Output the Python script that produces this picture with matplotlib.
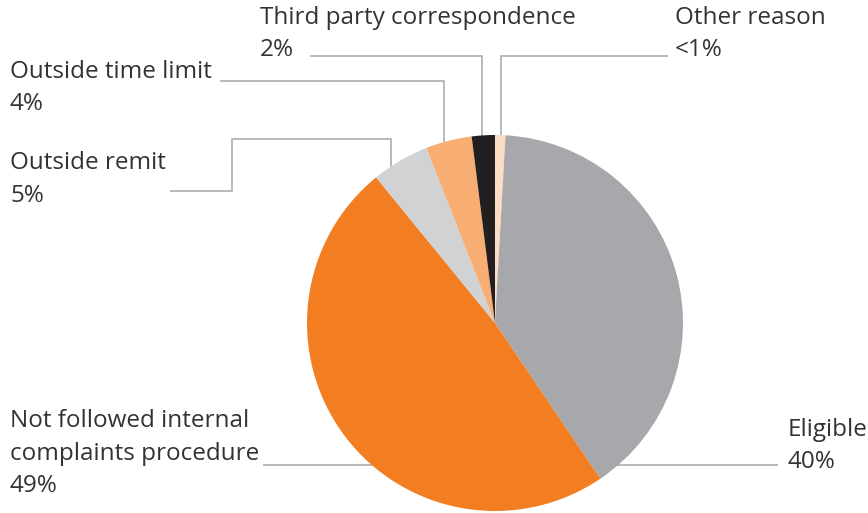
import matplotlib
matplotlib.use("Agg")
from matplotlib import pyplot as plt

plt.rcParams['font.family'] = ['Open Sans', 'DejaVu Sans']

# complaint outcomes, clockwise from 12 o'clock
categories = ["Other reason", "Eligible", "Not followed internal\ncomplaints procedure",
              "Outside remit", "Outside time limit", "Third party correspondence"]
shares = [0.9, 40, 49, 5, 4, 2]
share_labels = ["<1%", "40%", "49%", "5%", "4%", "2%"]
colors = ["#FDDCC4", "#A7A8AB", "#F37E21", "#D1D2D4", "#F8AE72", "#231F20"]

W, H = 868, 513
fig = plt.figure(figsize=(W / 100, H / 100), dpi=100)
ax = fig.add_axes([0, 0, 1, 1])


def Y(y):
    # layout is measured from the top edge
    return H - y


cx, cy, r = 495, 323, 188
ax.pie(shares, colors=colors, startangle=90, counterclock=False,
       center=(cx, Y(cy)), radius=r, frame=True,
       wedgeprops=dict(linewidth=0, zorder=3))
ax.set_xlim(0, W)
ax.set_ylim(0, H)
ax.set_aspect("equal")
ax.axis("off")

line_kw = dict(color="#b3b3b3", lw=1.3, zorder=1, solid_capstyle="butt")

# leader lines (x, y from top)
leaders = {
    "Other reason": [(668, 56), (501, 56), (501, 150)],
    "Eligible": [(778, 465), (600, 465)],
    "Not followed internal\ncomplaints procedure": [(263, 465), (380, 465)],
    "Outside remit": [(170, 191), (232, 191), (232, 139), (391, 139), (391, 180)],
    "Outside time limit": [(220, 81), (444, 81), (444, 155)],
    "Third party correspondence": [(310, 56), (482, 56), (482, 150)],
}
for pts in leaders.values():
    ax.plot([p[0] for p in pts], [Y(p[1]) for p in pts], **line_kw)

# label anchors: x, y of the first line's centre
label_pos = {
    "Other reason": (675, 18),
    "Eligible": (788, 430),
    "Not followed internal\ncomplaints procedure": (10, 421),
    "Outside remit": (10, 163),
    "Outside time limit": (10, 72),
    "Third party correspondence": (260, 18),
}
step = 32.5
fs = 17.5
for cat, pct in zip(categories, share_labels):
    x, y = label_pos[cat]
    lines = cat.split("\n") + [pct]
    for i, s in enumerate(lines):
        ax.text(x, Y(y + i * step), s, fontsize=fs, color="#333333",
                ha="left", va="center", fontweight="normal")

fig.savefig("out.png", dpi=100)
